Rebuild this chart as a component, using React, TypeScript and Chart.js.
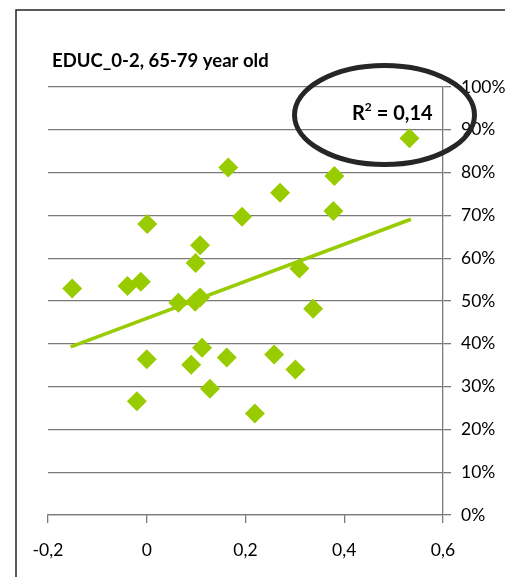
import React, { useEffect, useRef } from 'react';
import { Chart, registerables } from 'chart.js';

Chart.register(...registerables);

// Scatter points (x = change, y = share in %)
const xValues = [
  -0.151, -0.039, -0.012, 0.001, 0.0, -0.02, 0.064, 0.098, 0.108, 0.108, 0.099, 0.165, 0.193,
  0.27, 0.38, 0.378, 0.309, 0.337, 0.112, 0.09, 0.162, 0.258, 0.301, 0.128, 0.219, 0.532,
];
const yValues = [
  52.9, 53.5, 54.5, 68.0, 36.4, 26.6, 49.6, 49.8, 50.8, 63.0, 58.9, 81.2, 69.7,
  75.3, 79.2, 71.0, 57.6, 48.2, 39.1, 35.1, 36.8, 37.5, 34.0, 29.5, 23.7, 88.0,
];

// Linear trend line end points
const trendX = [-0.154, 0.535];
const trendY = [39.3, 69.1];

const xTickLabels = ['-0,2', '0', '0,2', '0,4', '0,6'];
const yTickLabels = ['0%', '10%', '20%', '30%', '40%', '50%', '60%', '70%', '80%', '90%', '100%'];

const titleText = 'EDUC_0-2, 65-79 year old';
const r2Base = 'R';
const r2Sup = '2';
const r2Rest = ' = 0,14';

const GREEN = '#99CC00';
const GRID = '#7a7a7a';
const FONT = 'Lato, "Open Sans", sans-serif';

const overlayPlugin = {
  id: 'overlay',
  afterDraw(chart: any) {
    const ctx = chart.ctx as CanvasRenderingContext2D;
    ctx.save();
    // outer frame (left + top border)
    ctx.strokeStyle = '#222222';
    ctx.lineWidth = 1.5;
    ctx.beginPath();
    ctx.moveTo(16, 577);
    ctx.lineTo(16, 10);
    ctx.lineTo(505, 10);
    ctx.stroke();

    // title
    ctx.fillStyle = '#000000';
    ctx.font = `bold 18.5px ${FONT}`;
    ctx.textBaseline = 'alphabetic';
    ctx.textAlign = 'left';
    ctx.fillText(titleText, 52, 67);

    // R² label
    let x = 352;
    const yb = 120;
    ctx.font = `bold 20px ${FONT}`;
    ctx.fillText(r2Base, x, yb);
    x += ctx.measureText(r2Base).width;
    ctx.font = `bold 12px ${FONT}`;
    ctx.fillText(r2Sup, x, yb - 9);
    x += ctx.measureText(r2Sup).width;
    ctx.font = `bold 20px ${FONT}`;
    ctx.fillText(r2Rest, x, yb);

    // ellipse highlight
    ctx.strokeStyle = '#262626';
    ctx.lineWidth = 5;
    ctx.beginPath();
    ctx.ellipse(384.5, 115, 90, 49.5, 0, 0, Math.PI * 2);
    ctx.stroke();
    ctx.restore();
  },
};

export default function App() {
  const ref = useRef<HTMLCanvasElement>(null);

  useEffect(() => {
    if (!ref.current) return;
    const points = xValues.map((x, i) => ({ x, y: yValues[i] }));
    const trend = trendX.map((x, i) => ({ x, y: trendY[i] }));
    const chart = new Chart(ref.current, {
      type: 'scatter',
      data: {
        datasets: [
          {
            data: points,
            pointStyle: 'rectRot',
            pointRadius: 10,
            pointHoverRadius: 10,
            backgroundColor: GREEN,
            borderColor: GREEN,
            borderWidth: 0,
          },
          {
            data: trend,
            showLine: true,
            pointRadius: 0,
            borderColor: GREEN,
            borderWidth: 3.5,
            backgroundColor: GREEN,
          },
        ],
      },
      options: {
        responsive: false,
        animation: false,
        layout: { padding: { left: 48, top: 87, right: 0, bottom: 0 } },
        plugins: {
          legend: { display: false },
          tooltip: { enabled: false },
          title: { display: false },
        },
        scales: {
          x: {
            type: 'linear',
            min: -0.2,
            max: 0.6,
            ticks: {
              stepSize: 0.2,
              color: '#000000',
              font: { family: FONT, size: 17.5 },
              padding: 17,
              callback: (_v: any, i: number) => xTickLabels[i],
            },
            grid: {
              drawOnChartArea: false,
              drawTicks: true,
              tickLength: 8,
              color: GRID,
              lineWidth: 1.3,
            },
            border: { display: true, color: GRID, width: 1.3 },
            afterFit: (s: any) => {
              s.height = 62;
            },
          },
          y: {
            type: 'linear',
            position: 'right',
            min: 0,
            max: 100,
            ticks: {
              stepSize: 10,
              color: '#000000',
              font: { family: FONT, size: 17.5 },
              padding: 10,
              callback: (_v: any, i: number) => yTickLabels[i],
            },
            grid: {
              drawOnChartArea: true,
              drawTicks: true,
              tickLength: 8,
              color: GRID,
              lineWidth: 1.3,
            },
            border: { display: true, color: GRID, width: 1.3 },
            afterFit: (s: any) => {
              s.width = 62;
            },
          },
        },
      },
      plugins: [overlayPlugin],
    });
    return () => chart.destroy();
  }, []);

  return (
    <canvas
      ref={ref}
      width={505}
      height={577}
      style={{ position: 'absolute', left: 0, top: 0, display: 'block', width: 505, height: 577 }}
    />
  );
}
